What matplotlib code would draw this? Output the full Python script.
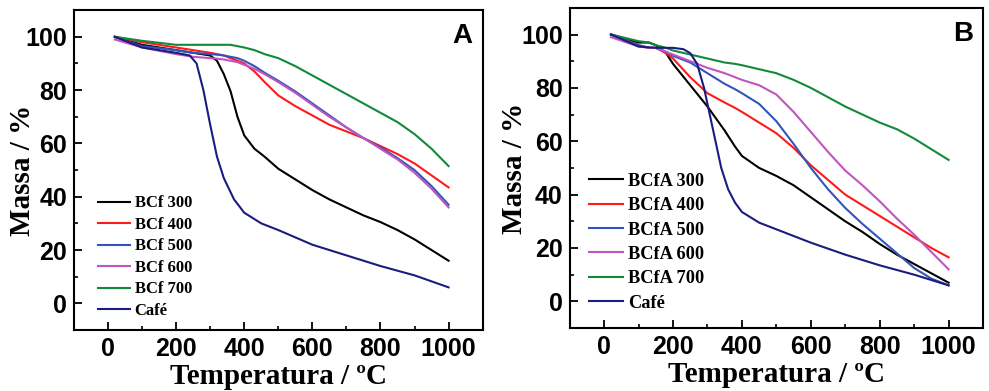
import numpy as np
import matplotlib.pyplot as plt
from matplotlib.ticker import MultipleLocator

# Panel A: BCf samples
temp_a = [20, 100, 200, 250, 300, 320, 340, 360, 380, 400, 430, 460, 500, 550, 600, 650, 700, 750, 800, 850, 900, 950, 1000]
bcf300 = [100, 97, 95, 94, 93, 91, 86, 79.5, 70, 63, 58, 55, 50.5, 46.5, 42.5, 39, 36, 33, 30.5, 27.5, 24, 20, 16]
bcf400 = [100, 98, 96, 95, 94, 93.5, 93, 92, 91, 90, 87, 83, 78, 74, 70.5, 67, 64.5, 62, 59, 56, 52.5, 48, 43.5]
bcf500 = [100, 96.5, 95, 94, 93.5, 93.3, 93, 92.5, 92, 91, 89, 86.5, 83.5, 79.5, 75, 70.5, 66, 62, 58.5, 54.5, 50, 44, 37]
bcf600 = [99, 96, 93.5, 92.5, 92, 91.8, 91.5, 91, 90.5, 89.5, 88, 86, 83, 79, 74.5, 70, 66, 62, 58, 54, 49, 43, 36]
bcf700 = [100, 98.5, 97, 97, 97, 97, 97, 97, 96.5, 96, 95, 93.5, 92, 89, 85.5, 82, 78.5, 75, 71.5, 68, 63.5, 58, 51.5]
temp_cafe_a = [20, 100, 200, 240, 260, 280, 300, 320, 340, 370, 400, 450, 500, 600, 700, 800, 900, 1000]
cafe_a = [100, 96, 94, 93, 90, 80, 67, 55, 47, 39, 34, 30, 27.5, 22, 18, 14, 10.5, 6]

# Panel B: BCfA samples
temp_b = [20, 100, 130, 150, 180, 200, 250, 300, 350, 380, 400, 450, 500, 550, 600, 650, 700, 750, 800, 850, 900, 950, 1000]
bcfa300 = [100, 97, 97, 96, 93, 89, 81, 73, 64, 58, 54.5, 50, 47, 43.5, 39, 34.5, 30, 26, 21.5, 17.5, 14, 10.5, 7]
bcfa400 = [100, 96, 95, 95, 93, 91, 84, 78, 74.5, 72.5, 71, 67, 63, 57.5, 51, 45.5, 40, 36, 32, 28, 24, 20, 16.5]
bcfa500 = [100, 96, 95, 95, 93.5, 92, 89.5, 85.5, 81.5, 79.5, 78, 74, 67.5, 59, 50, 42, 35, 29, 23.5, 18, 12.5, 8.5, 6]
bcfa600 = [99, 95.5, 95, 95, 93.5, 92.5, 90, 87.5, 85.5, 84, 83, 81, 77.5, 71, 63.5, 56, 49, 43.5, 37.5, 31, 25, 18.5, 12]
bcfa700 = [100, 97.5, 97, 96, 95, 94, 92.5, 91, 89.5, 89, 88.5, 87, 85.5, 83, 80, 76.5, 73, 70, 67, 64.5, 61, 57, 53]
temp_cafe_b = [20, 100, 150, 200, 230, 250, 270, 290, 300, 320, 340, 360, 380, 400, 450, 500, 600, 700, 800, 900, 1000]
cafe_b = [100, 95.5, 95, 95, 94.5, 93, 89, 80, 74, 62, 50, 42, 37, 33.5, 29.5, 27, 22, 17.5, 13.5, 10, 6]

colors = ['black', '#ff1a1a', '#3355bb', '#c055c0', '#128a3a', '#1c1c80']
labels_a = ['BCf 300', 'BCf 400', 'BCf 500', 'BCf 600', 'BCf 700', 'Café']
labels_b = ['BCfA 300', 'BCfA 400', 'BCfA 500', 'BCfA 600', 'BCfA 700', 'Café']

serif = 'Liberation Serif'
sans = 'Liberation Sans'

fig = plt.figure(figsize=(9.89, 3.91), dpi=100)
ax_a = fig.add_axes([0.0748, 0.156, 0.4132, 0.818])
ax_b = fig.add_axes([0.576, 0.161, 0.418, 0.819])

panels = [
    (ax_a, temp_a, [bcf300, bcf400, bcf500, bcf600, bcf700], temp_cafe_a, cafe_a, labels_a, 'A',
     dict(size=12, anchor=(0.022, -0.012), hl=1.9, tp=0.3, ls=0.33, ypad=-8)),
    (ax_b, temp_b, [bcfa300, bcfa400, bcfa500, bcfa600, bcfa700], temp_cafe_b, cafe_b, labels_b, 'B',
     dict(size=13.2, anchor=(0.006, 0.0), hl=1.9, tp=0.25, ls=0.4, ypad=-5)),
]

for ax, temp, series, tcafe, cafe, labels, letter, lg in panels:
    for ys, c, lab in zip(series, colors[:5], labels[:5]):
        ax.plot(temp, ys, color=c, lw=1.5, label=lab)
    ax.plot(tcafe, cafe, color=colors[5], lw=1.5, label=labels[5])
    ax.set_xlim(-100, 1100)
    ax.set_ylim(-10, 110)
    ax.xaxis.set_minor_locator(MultipleLocator(100))
    ax.yaxis.set_minor_locator(MultipleLocator(10))
    ax.set_xticks([0, 200, 400, 600, 800, 1000])
    ax.set_yticks([0, 20, 40, 60, 80, 100])
    ax.tick_params(which='major', direction='in', length=6, width=1.3, labelsize=18, pad=5)
    ax.tick_params(which='minor', direction='in', length=3, width=1.2)
    for lab in ax.get_xticklabels() + ax.get_yticklabels():
        lab.set_fontfamily(sans)
        lab.set_fontweight('bold')
    for sp in ax.spines.values():
        sp.set_linewidth(1.5)
    ax.set_xlabel('Temperatura / ºC', family=serif, weight='bold', fontsize=21, labelpad=1.5)
    ax.set_ylabel('Massa / %', family=serif, weight='bold', fontsize=21, labelpad=lg['ypad'])
    ax.text(0.975, 0.96, letter, transform=ax.transAxes, ha='right', va='top',
            family=sans, weight='bold', fontsize=20)
    ax.legend(loc='lower left', bbox_to_anchor=lg['anchor'], frameon=False,
              prop={'family': serif, 'weight': 'bold', 'size': lg['size']},
              handlelength=lg['hl'], handletextpad=lg['tp'], labelspacing=lg['ls'])

fig.savefig('out.png', dpi=100)
